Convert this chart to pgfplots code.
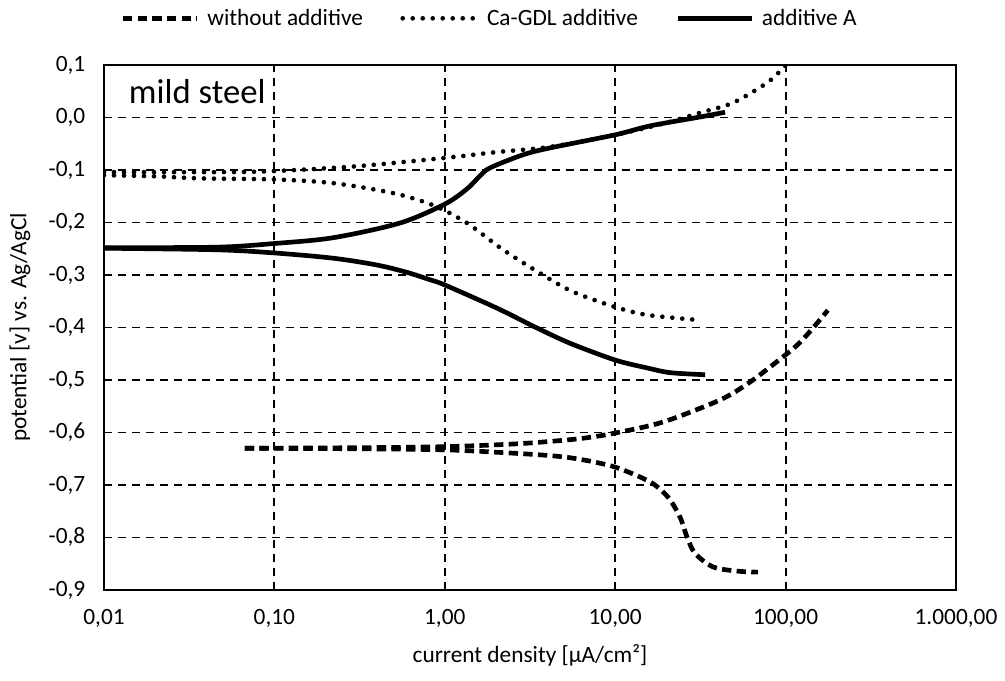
\documentclass[border=0pt]{standalone}
\usepackage{fontspec}
\setmainfont{Carlito}
\usepackage{pgfplots}
\pgfplotsset{compat=1.18}

\begin{document}
\begin{tikzpicture}
\begin{axis}[
    scale only axis,
    width=639pt, height=393.75pt,
    xmode=log,
    xmin=0.01, xmax=1000,
    ymin=-0.9, ymax=0.1,
    xtick={0.01,0.1,1,10,100,1000},
    xticklabels={{0,01},{0,10},{1,00},{10,00},{100,00},{1.000,00}},
    ytick={-0.9,-0.8,-0.7,-0.6,-0.5,-0.4,-0.3,-0.2,-0.1,0,0.1},
    yticklabels={{-0,9},{-0,8},{-0,7},{-0,6},{-0,5},{-0,4},{-0,3},{-0,2},{-0,1},{0,0},{0,1}},
    xminorticks=false, yminorticks=false,
    major tick length=0pt,
    axis line style={line width=2pt},
    grid=major,
    major grid style={black, line width=1.4pt, dash pattern=on 6pt off 4.5pt},
    tick label style={font=\fontsize{17.5}{20}\selectfont},
    xticklabel style={yshift=-11pt},
    yticklabel style={xshift=-10.5pt},
    xlabel={current density [µA/cm²]},
    ylabel={potential [v] vs. Ag/AgCl},
    every axis x label/.style={at={(axis description cs:0.5,0)},anchor=center,yshift=-49pt,font=\fontsize{17.5}{20}\selectfont},
    every axis y label/.style={at={(axis description cs:-0.0986,0.5)},rotate=90,anchor=center,font=\fontsize{17.5}{20}\selectfont},
    legend columns=3,
    legend style={draw=none, fill=none, at={(0.5,1)}, anchor=center, yshift=35pt, xshift=-30pt,
        font=\fontsize{17.5}{20}\selectfont,
        /tikz/every odd column/.append style={column sep=4pt},
        /tikz/every even column/.append style={column sep=26pt}},
    legend image code/.code={\draw[#1] (0cm,0cm) -- (1.95cm,0cm);},
]
% without additive
\addplot[black, line width=3.5pt, dash pattern=on 7pt off 4pt, smooth] coordinates {
(0.067,-0.630) (0.3,-0.629) (1.0,-0.627) (2.5,-0.622) (4.14,-0.617) (6.47,-0.611) (10,-0.601) (19.1,-0.580) (41.2,-0.538) (61.8,-0.504) (100,-0.452) (120,-0.430) (144.8,-0.401) (177,-0.367)
};
\addlegendentry{without additive}
\addplot[black, line width=3.5pt, dash pattern=on 7pt off 4pt, smooth, forget plot] coordinates {
(0.067,-0.630) (0.3,-0.631) (1.0,-0.633) (2.11,-0.638) (4.14,-0.644) (6.21,-0.651) (10,-0.666) (16.0,-0.694) (20.4,-0.723) (24.0,-0.761) (26.4,-0.799) (29.4,-0.830) (37.5,-0.856) (51.9,-0.864) (68.9,-0.866)
};
% Ca-GDL additive
\addplot[black, line width=3.5pt, line cap=round, dash pattern=on 0pt off 7.5pt, smooth] coordinates {
(0.01,-0.104) (0.05,-0.104) (0.1,-0.102) (0.3,-0.093) (1.0,-0.077) (2.0,-0.066) (4.14,-0.056) (10,-0.033) (20,-0.010) (31.5,0.009) (49.1,0.028) (77.8,0.066) (96.5,0.094) (100,0.1)
};
\addlegendentry{Ca-GDL additive}
\addplot[black, line width=3.5pt, line cap=round, dash pattern=on 0pt off 7.5pt, smooth, forget plot] coordinates {
(0.01,-0.110) (0.02,-0.112) (0.0366,-0.116) (0.1,-0.118) (0.221,-0.125) (0.497,-0.144) (0.853,-0.167) (1.35,-0.201) (2.20,-0.252) (3.77,-0.300) (5.65,-0.332) (10,-0.361) (15.4,-0.376) (31.5,-0.386)
};
% additive A
\addplot[black, line width=3.5pt, smooth] coordinates {
(0.01,-0.248) (0.046,-0.247) (0.1,-0.240) (0.221,-0.229) (0.546,-0.201) (1.0,-0.165) (1.35,-0.136) (1.6,-0.112) (1.84,-0.096) (2.88,-0.071) (4.14,-0.058) (10,-0.033) (16,-0.016) (31.5,0.001) (44.1,0.010)
};
\addlegendentry{additive A}
\addplot[black, line width=3.5pt, smooth, forget plot] coordinates {
(0.01,-0.249) (0.046,-0.252) (0.1,-0.258) (0.221,-0.268) (0.4,-0.281) (0.6,-0.295) (0.818,-0.309) (1.0,-0.319) (2.02,-0.363) (3.48,-0.401) (5.43,-0.430) (10,-0.462) (15.4,-0.477) (21.0,-0.486) (33.7,-0.490)
};
\node[anchor=north west, font=\fontsize{26}{30}\selectfont, inner sep=0pt] at (rel axis cs:0.029,0.973) {mild steel};
\end{axis}
\pgfresetboundingbox
\path ([shift={(-78pt,-67.5pt)}]current axis.south west) rectangle ([shift={(36.75pt,48.75pt)}]current axis.north east);
\end{tikzpicture}
\end{document}
